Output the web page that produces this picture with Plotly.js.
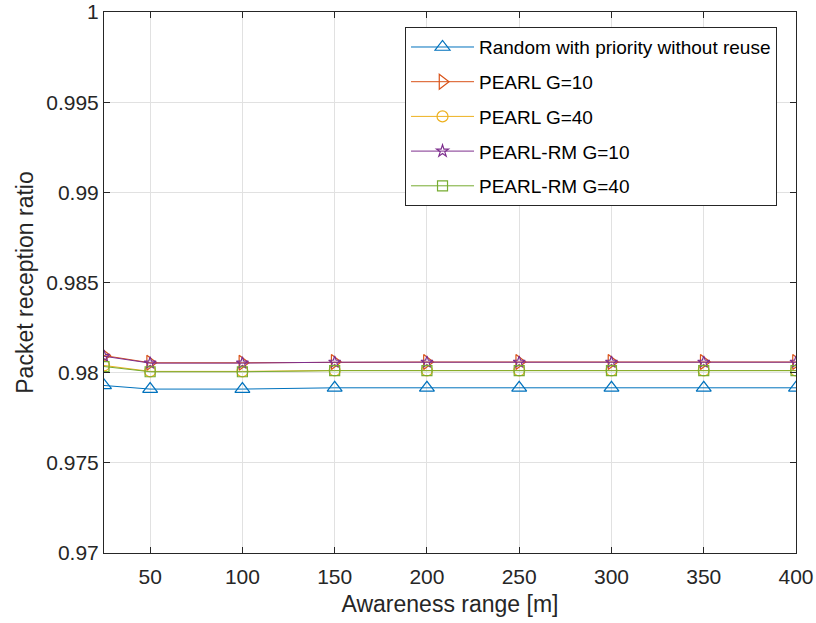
<!DOCTYPE html>
<html><head><meta charset="utf-8">
<script src="https://cdn.plot.ly/plotly-3.0.1.min.js"></script>
<style>body{margin:0;background:#fff}#c{width:816px;height:623px}</style>
</head><body><div id="c"></div>
<script>
const xVals = [25, 50, 100, 150, 200, 250, 300, 350, 400];
const randomNoReuse = [0.97929, 0.97909, 0.97909, 0.97916, 0.97916, 0.97916, 0.97916, 0.97916, 0.97916];
const pearlG10 = [0.98095, 0.98055, 0.98055, 0.98059, 0.98059, 0.98059, 0.98059, 0.98059, 0.98059];
const pearlG40 = [0.98040, 0.98007, 0.98007, 0.98012, 0.98012, 0.98012, 0.98012, 0.98012, 0.98012];
const pearlRmG10 = [0.98091, 0.98053, 0.98053, 0.98058, 0.98058, 0.98058, 0.98058, 0.98058, 0.98058];
const pearlRmG40 = [0.98034, 0.98005, 0.98005, 0.98011, 0.98011, 0.98011, 0.98011, 0.98011, 0.98011];
const names = ['Random with priority without reuse', 'PEARL G=10', 'PEARL G=40', 'PEARL-RM G=10', 'PEARL-RM G=40'];
const yTicks = [0.97, 0.975, 0.98, 0.985, 0.99, 0.995, 1];
const yTickText = ['0.97', '0.975', '0.98', '0.985', '0.99', '0.995', '1'];
const xTicks = [50, 100, 150, 200, 250, 300, 350, 400];

const series = [randomNoReuse, pearlG10, pearlG40, pearlRmG10, pearlRmG40];
const colors = ['#0072BD', '#D95319', '#EDB120', '#7E2F8E', '#77AC30'];
const symbols = ['triangle-up-open', 'triangle-right-open', 'circle-open', 'star-open', 'square-open'];
const sizes = [13, 13, 11, 9, 10];

const data = series.map((ys, i) => ({
  x: xVals, y: ys, name: names[i], type: 'scatter', mode: 'lines+markers',
  legendgroup: 'g' + i,
  line: {color: colors[i], width: 1},
  marker: {symbol: symbols[i], size: sizes[i], color: colors[i], line: {color: colors[i], width: 1.2}}
}));

const layout = {
  width: 816, height: 623,
  margin: {l: 104, r: 20, t: 12, b: 70},
  paper_bgcolor: '#fff', plot_bgcolor: '#fff',
  font: {family: 'Liberation Sans, Arial, sans-serif', size: 21, color: '#262626'},
  showlegend: true,
  legend: {x: 0.435, y: 0.972, xanchor: 'left', yanchor: 'top', bgcolor: '#fff',
    bordercolor: '#262626', borderwidth: 1, font: {size: 19, color: '#000'},
    tracegroupgap: 7, itemwidth: 63},
  xaxis: {
    range: [25, 400], tickvals: xTicks, ticks: 'inside', ticklen: 6, tickcolor: '#262626',
    showline: true, linecolor: '#262626', linewidth: 1, mirror: 'ticks',
    showgrid: true, gridcolor: '#e1e1e1', zeroline: false,
    title: {text: 'Awareness range [m]', font: {size: 23}, standoff: 8},
    tickfont: {size: 21}, ticklabeloverflow: 'allow', ticklabelstandoff: 5
  },
  yaxis: {
    range: [0.97, 1], tickvals: yTicks, ticktext: yTickText, ticks: 'inside', ticklen: 6, tickcolor: '#262626',
    showline: true, linecolor: '#262626', linewidth: 1, mirror: 'ticks',
    showgrid: true, gridcolor: '#e1e1e1', zeroline: false,
    title: {text: 'Packet reception ratio', font: {size: 23}, standoff: 6},
    tickfont: {size: 21}, ticklabeloverflow: 'allow'
  }
};
Plotly.newPlot('c', data, layout, {displayModeBar: false, staticPlot: true});
</script>
</body></html>
